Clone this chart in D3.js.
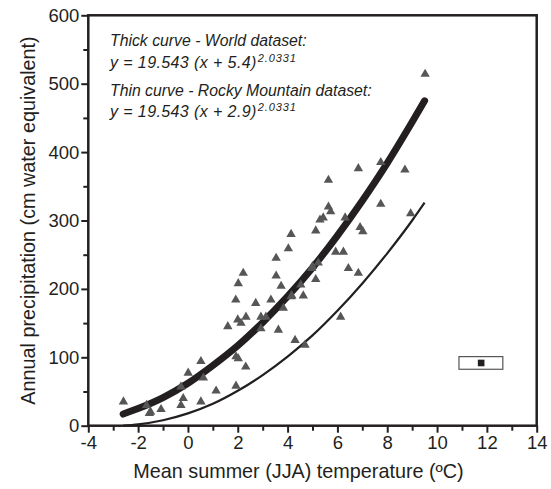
<!doctype html>
<html lang="en">
<head>
<meta charset="utf-8">
<script src="https://d3js.org/d3.v7.min.js"></script>
<title>Precipitation vs summer temperature</title>
<style>
  body { margin: 0; background: #fff; }
  text { font-family: "Liberation Sans", Arial, sans-serif; fill: #231f20; }
</style>
</head>
<body>
<svg id="svg1" width="551" height="489"></svg>
<script>
// observed points (mean JJA temperature, annual precipitation)
const obsTemp = [-2.59, -1.66, -1.55, -1.50, -1.08, -0.28, -0.19, -0.28, 0.01, 0.52, 0.62, 0.52, 1.13,
  1.60, 1.92, 2.02, 2.00, 2.13, 2.33, 1.93, 2.02, 2.32, 1.93, 2.22, 2.72, 2.93, 2.93, 3.13, 3.33,
  3.54, 3.54, 3.63, 3.74, 3.83, 4.03, 4.14, 4.14, 4.17, 4.30, 4.53, 4.63, 4.70, 4.97, 5.13, 5.13,
  5.23, 5.00, 5.30, 5.43, 5.64, 5.64, 5.73, 5.93, 6.13, 6.24, 6.31, 6.44, 6.84, 6.84, 6.91, 7.02,
  7.74, 7.74, 8.71, 8.94, 9.52];
const obsPrecip = [35, 30, 18, 20, 24, 57, 40, 30, 77, 94, 70, 35, 51,
  145, 184, 208, 155, 150, 159, 101, 98, 86, 58, 223, 179, 159, 142, 159, 184,
  245, 219, 140, 204, 172, 259, 280, 189, 190, 125, 206, 190, 118, 230, 285, 214,
  238, 233, 301, 304, 359, 320, 313, 254, 159, 254, 304, 230, 376, 223, 290, 284,
  385, 324, 374, 310, 514];

// thick curve (World dataset)
const worldTemp = [-2.6, -2, -1, 0, 1, 2, 3, 4, 5, 6, 7, 8, 9, 9.5];
const worldPrecip = [17, 25, 41, 62, 88, 117, 151, 189, 231, 278, 329, 384, 444, 475];

// thin curve (Rocky Mountain dataset)
const rockyTemp = [-2.6, -2, -1, 0, 1, 2, 3, 4, 5, 6, 7, 8, 9, 9.5];
const rockyPrecip = [0, 2, 8, 18, 32, 51, 74, 101, 132, 168, 208, 252, 300, 326];

// small boxed marker in the lower right
const boxTemp = [10.88, 12.64];
const boxPrecip = [82.5, 101];
const boxPointTemp = 11.77, boxPointPrecip = 91.7;

const xTicks = [-4, -2, 0, 2, 4, 6, 8, 10, 12, 14];
const yTicks = [0, 100, 200, 300, 400, 500, 600];

const notes = [
  { text: "Thick curve - World dataset:", sup: null },
  { text: "y = 19.543 (x + 5.4)", sup: "2.0331" },
  { text: "Thin curve - Rocky Mountain dataset:", sup: null },
  { text: "y = 19.543 (x + 2.9)", sup: "2.0331" }
];

const margin = { top: 15.3, left: 88.3 };
const width = 448.4, height = 410.4;

const svg = d3.select("#svg1");
const g = svg.append("g").attr("transform", `translate(${margin.left},${margin.top})`);

const x = d3.scaleLinear().domain([-4, 14]).range([0, width]);
const y = d3.scaleLinear().domain([0, 600]).range([height, 0]);

// axes: majors with labels, minors without
g.append("g").attr("transform", `translate(0,${height})`)
  .call(d3.axisBottom(x).tickValues(xTicks).tickSize(7).tickPadding(3).tickFormat(d => String(d)));
g.append("g").attr("transform", `translate(0,${height})`)
  .call(d3.axisBottom(x).tickValues(d3.range(-3, 14, 2)).tickSize(5).tickFormat(""));
g.append("g")
  .call(d3.axisLeft(y).tickValues(yTicks).tickSize(7).tickPadding(2).tickFormat(d => String(d)));
g.append("g")
  .call(d3.axisLeft(y).tickValues(d3.range(50, 600, 100)).tickSize(5).tickFormat(""));

g.selectAll(".domain").remove();
g.selectAll(".tick line").attr("stroke", "#231f20").attr("stroke-width", 2);
g.selectAll(".tick text").attr("font-size", 18.5).attr("fill", "#231f20")
  .style("font-family", "'Liberation Sans', Arial, sans-serif");

// frame
g.append("rect")
  .attr("x", 0).attr("y", 0).attr("width", width).attr("height", height)
  .attr("fill", "none").attr("stroke", "#231f20").attr("stroke-width", 2.5);

// curves
const line = d3.line().x(d => x(d[0])).y(d => y(d[1])).curve(d3.curveMonotoneX);

g.append("path")
  .datum(d3.zip(rockyTemp, rockyPrecip))
  .attr("d", line)
  .attr("fill", "none").attr("stroke", "#231f20").attr("stroke-width", 2.2);

g.append("path")
  .datum(d3.zip(worldTemp, worldPrecip))
  .attr("d", line)
  .attr("fill", "none").attr("stroke", "#231f20").attr("stroke-width", 7)
  .attr("stroke-linecap", "round");

// triangles
const tri = d3.symbol().type(d3.symbolTriangle).size(38);
g.selectAll(".obs")
  .data(d3.zip(obsTemp, obsPrecip))
  .join("path")
  .attr("class", "obs")
  .attr("d", tri)
  .attr("transform", d => `translate(${x(d[0])},${y(d[1])})`)
  .attr("fill", "#565656");

// boxed marker
g.append("rect")
  .attr("x", x(boxTemp[0])).attr("y", y(boxPrecip[1]))
  .attr("width", x(boxTemp[1]) - x(boxTemp[0]))
  .attr("height", y(boxPrecip[0]) - y(boxPrecip[1]))
  .attr("fill", "#fff").attr("stroke", "#555").attr("stroke-width", 1.2);
g.append("rect")
  .attr("x", x(boxPointTemp) - 3.3).attr("y", y(boxPointPrecip) - 3.3)
  .attr("width", 6.6).attr("height", 6.6)
  .attr("fill", "#231f20");

// annotation text
const noteY = [46, 68, 96, 117];
notes.forEach((n, i) => {
  const t = svg.append("text")
    .attr("x", 110).attr("y", noteY[i])
    .attr("font-size", n.sup ? 16 : 15.8).attr("font-style", "italic")
    .attr("letter-spacing", n.sup ? 0.4 : 0);
  t.append("tspan").text(n.text);
  if (n.sup) {
    t.append("tspan").attr("dx", 1).attr("dy", -6.5).attr("font-size", 11)
      .attr("letter-spacing", 0.9).text(n.sup);
  }
});

// axis titles
svg.append("text")
  .attr("x", margin.left + width / 2 - 14).attr("y", 478)
  .attr("text-anchor", "middle").attr("font-size", 19.8)
  .text("Mean summer (JJA) temperature (ºC)");

svg.append("text")
  .attr("transform", `translate(35,${margin.top + height / 2}) rotate(-90)`)
  .attr("text-anchor", "middle").attr("font-size", 19.8)
  .text("Annual precipitation (cm water equivalent)");
</script>
</body>
</html>
